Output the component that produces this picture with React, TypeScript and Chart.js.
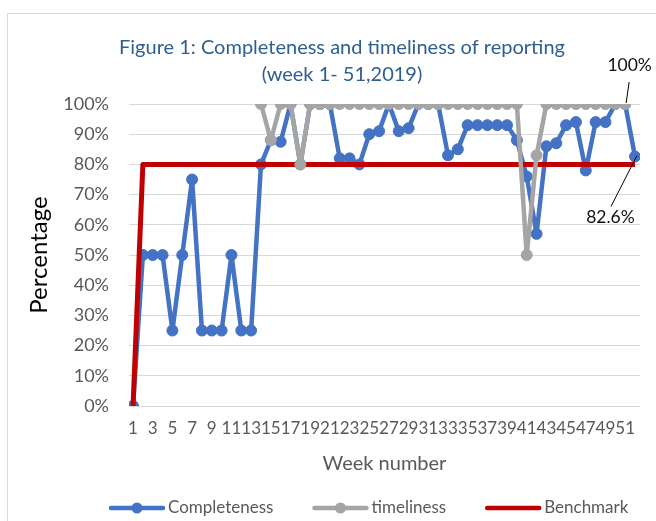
import React, { useEffect, useRef } from "react";
import { Chart, registerables } from "chart.js";

Chart.register(...registerables);

// ---- data ----
const weeks = [
  1, 2, 3, 4, 5, 6, 7, 8, 9, 10, 11, 12, 13, 14, 15, 16, 17, 18, 19, 20, 21, 22, 23, 24, 25, 26,
  27, 28, 29, 30, 31, 32, 33, 34, 35, 36, 37, 38, 39, 40, 41, 42, 43, 44, 45, 46, 47, 48, 49, 50, 51, 52,
];
const tickWeeks = [
  1, 3, 5, 7, 9, 11, 13, 15, 17, 19, 21, 23, 25, 27, 29, 31, 33, 35, 37, 39, 41, 43, 45, 47, 49, 51,
];
const completeness = [
  0, 50, 50, 50, 25, 50, 75, 25, 25, 25, 50, 25, 25, 80, 88, 87.5, 100, 80, 100, 100, 100, 82, 82, 80, 90, 91,
  100, 91, 92, 100, 100, 100, 83, 85, 93, 93, 93, 93, 93, 88, 76, 57, 86, 87, 93, 94, 78, 94, 94, 100, 100, 82.6,
];
const timeliness = [
  null, null, null, null, null, null, null, null, null, null, null, null, null, 100, 88, 100, 100, 80, 100, 100, 100, 100, 100, 100, 100, 100,
  100, 100, 100, 100, 100, 100, 100, 100, 100, 100, 100, 100, 100, 100, 50, 83, 100, 100, 100, 100, 100, 100, 100, 100, 100, null,
];
const benchmark = [
  0, 80, 80, 80, 80, 80, 80, 80, 80, 80, 80, 80, 80, 80, 80, 80, 80, 80, 80, 80, 80, 80, 80, 80, 80, 80,
  80, 80, 80, 80, 80, 80, 80, 80, 80, 80, 80, 80, 80, 80, 80, 80, 80, 80, 80, 80, 80, 80, 80, 80, 80, 80,
];
const seriesNames = ["Completeness", "timeliness", "Benchmark"];
const titleLines = ["Figure 1: Completeness and timeliness of reporting", "(week 1- 51,2019)"];
const xTitle = "Week number";
const yTitle = "Percentage";

const FONT = "Lato";

const toXY = (vals: (number | null)[]) => weeks.map((w, i) => ({ x: w, y: vals[i] }));

const framePlugin = {
  id: "frame",
  beforeDraw(chart: any) {
    const ctx = chart.ctx;
    ctx.save();
    ctx.fillStyle = "#ffffff";
    ctx.fillRect(0, 0, chart.width, chart.height);
    ctx.strokeStyle = "#d9d9d9";
    ctx.lineWidth = 1;
    ctx.strokeRect(7.5, 13.5, 760, 640);
    ctx.restore();
  },
};

const legendPlugin = {
  id: "lineLegend",
  afterDraw(chart: any) {
    const ctx = chart.ctx;
    ctx.save();
    ctx.font = `17px ${FONT}`;
    ctx.textBaseline = "middle";
    let x = 109;
    const y = 508;
    chart.data.datasets.forEach((ds: any) => {
      ctx.strokeStyle = ds.borderColor;
      ctx.lineWidth = 4.5;
      ctx.lineCap = "round";
      ctx.beginPath();
      ctx.moveTo(x + 2, y);
      ctx.lineTo(x + 54, y);
      ctx.stroke();
      if (ds.pointRadius > 0) {
        ctx.fillStyle = ds.borderColor;
        ctx.beginPath();
        ctx.arc(x + 28, y, 5.5, 0, Math.PI * 2);
        ctx.fill();
      }
      ctx.fillStyle = "#595959";
      ctx.textAlign = "left";
      ctx.fillText(ds.label, x + 59, y);
      x += 59 + ctx.measureText(ds.label).width + 39;
    });
    ctx.restore();
  },
};

const fmtPct = (v: number) => `${v}%`;

const calloutPlugin = {
  id: "callouts",
  afterDatasetsDraw(chart: any) {
    const ctx = chart.ctx;
    const draw = (dsIndex: number, idx: number, dx: number, dy: number, l1: number[], l2: number[]) => {
      const pt = chart.getDatasetMeta(dsIndex).data[idx];
      const value = chart.data.datasets[dsIndex].data[idx].y;
      if (!pt) return;
      ctx.save();
      ctx.strokeStyle = "#000000";
      ctx.lineWidth = 1;
      ctx.beginPath();
      ctx.moveTo(pt.x + l1[0], pt.y + l1[1]);
      ctx.lineTo(pt.x + l2[0], pt.y + l2[1]);
      ctx.stroke();
      ctx.fillStyle = "#111111";
      ctx.font = `17.5px ${FONT}`;
      ctx.textAlign = "center";
      ctx.textBaseline = "middle";
      ctx.fillText(fmtPct(value), pt.x + dx, pt.y + dy);
      ctx.restore();
    };
    // timeliness, week 51
    draw(1, weeks.indexOf(51), 4.5, -38.5, [1, -1], [4, -22]);
    // completeness, week 52
    draw(0, weeks.indexOf(52), -24.5, 60.5, [2, -1], [-24, 50]);
  },
};

export default function App() {
  const canvasRef = useRef<HTMLCanvasElement | null>(null);

  useEffect(() => {
    if (!canvasRef.current) return;
    const chart = new Chart(canvasRef.current, {
      type: "line",
      data: {
        datasets: [
          {
            label: seriesNames[0],
            data: toXY(completeness),
            borderColor: "#4472C4",
            backgroundColor: "#4472C4",
            pointBackgroundColor: "#4472C4",
            pointBorderColor: "#4472C4",
            borderWidth: 4.5,
            pointRadius: 5.5,
            pointBorderWidth: 1,
            borderJoinStyle: "round",
            order: 2,
          },
          {
            label: seriesNames[1],
            data: toXY(timeliness),
            borderColor: "#A5A5A5",
            backgroundColor: "#A5A5A5",
            pointBackgroundColor: "#A5A5A5",
            pointBorderColor: "#A5A5A5",
            borderWidth: 4.5,
            pointRadius: 5.5,
            pointBorderWidth: 1,
            borderJoinStyle: "round",
            order: 0,
          },
          {
            label: seriesNames[2],
            data: toXY(benchmark),
            borderColor: "#C00000",
            backgroundColor: "#C00000",
            borderWidth: 5,
            pointRadius: 0,
            borderJoinStyle: "round",
            order: 1,
          },
        ],
      } as any,
      options: {
        responsive: false,
        animation: false,
        devicePixelRatio: 1,
        layout: { padding: { left: 44, right: 16, top: 0, bottom: 30 } },
        plugins: {
          legend: { display: false },
          tooltip: { enabled: false },
          title: {
            display: true,
            text: titleLines,
            color: "#2F5F8F",
            font: { family: FONT, size: 20, weight: "normal", lineHeight: 1.35 },
            padding: { top: 34.5, bottom: 15.5 },
          },
        },
        scales: {
          x: {
            type: "linear",
            min: 0.59,
            max: 52.51,
            afterFit: (s: any) => {
              s.height = 85;
            },
            afterBuildTicks: (s: any) => {
              s.ticks = tickWeeks.map((v) => ({ value: v }));
            },
            grid: { display: false, drawTicks: false },
            border: { display: false },
            ticks: {
              autoSkip: false,
              maxRotation: 0,
              minRotation: 0,
              padding: 12,
              color: "#595959",
              font: { family: FONT, size: 17 },
              callback: (v: any) => String(v),
            },
            title: {
              display: true,
              text: xTitle,
              color: "#595959",
              font: { family: FONT, size: 20 },
              padding: { top: 0, bottom: 15 },
            },
          },
          y: {
            min: 0,
            max: 100,
            afterFit: (s: any) => {
              s.width = 85;
            },
            grid: { color: "#d9d9d9", lineWidth: 1, drawTicks: false },
            border: { display: false },
            ticks: {
              stepSize: 10,
              padding: 20,
              color: "#595959",
              font: { family: FONT, size: 18 },
              callback: (v: any) => `${v}%`,
            },
            title: {
              display: true,
              text: yTitle,
              color: "#000000",
              font: { family: FONT, size: 24 },
              padding: { top: -19.4, bottom: 0 },
            },
          },
        },
      } as any,
      plugins: [framePlugin, calloutPlugin, legendPlugin],
    });
    return () => chart.destroy();
  }, []);

  return (
    <div style={{ position: "fixed", left: 0, top: 0, width: 656, height: 521 }}>
      <canvas ref={canvasRef} width={656} height={521} style={{ display: "block" }} />
    </div>
  );
}
